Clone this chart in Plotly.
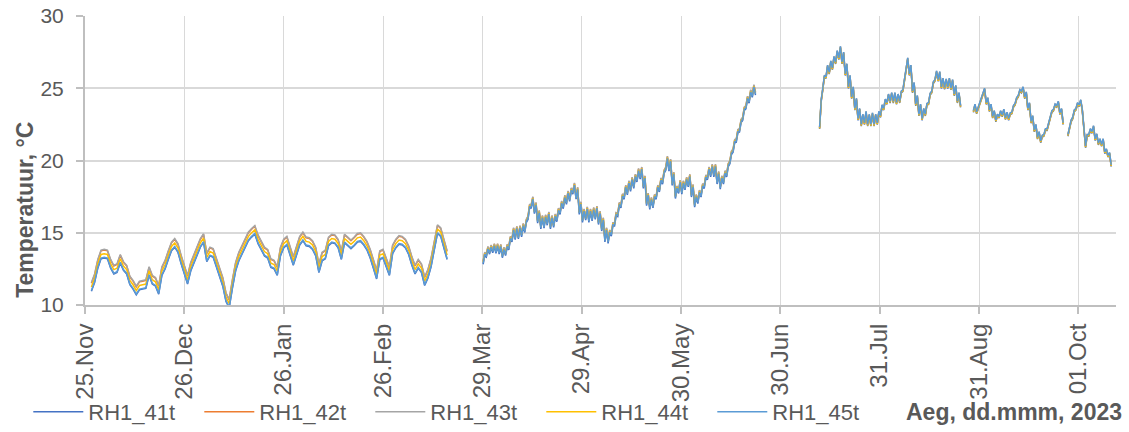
import pandas as pd
import plotly.graph_objects as go

SENSORS = ["RH1_41t", "RH1_42t", "RH1_43t", "RH1_44t", "RH1_45t"]
COLORS = ["#4472C4", "#ED7D31", "#A5A5A5", "#FFC000", "#5B9BD5"]

# RH1_45t, daily readings from 27 Nov 2022 to 18 Mar 2023
WINTER_START = "2022-11-27"
WINTER_T = [
    11.0, 11.6, 12.6, 13.25, 13.3, 13.25, 12.6, 12.2, 12.3, 12.95,
    12.45, 12.2, 11.45, 11.15, 10.75, 11.1, 11.15, 11.2, 12.1, 11.5,
    11.35, 10.8, 12.1, 12.55, 13.2, 13.8, 14.05, 13.7, 12.9, 12.25,
    11.5, 12.4, 12.9, 13.5, 14.05, 14.38, 13.05, 13.45, 13.35, 12.7,
    12.05, 11.35, 10.3, 9.85, 11.2, 12.4, 13.1, 13.55, 14.1, 14.5,
    14.75, 14.95, 14.3, 13.85, 13.45, 13.3, 12.65, 12.55, 12.1, 13.45,
    14.0, 14.2, 13.5, 12.8, 13.5, 14.2, 14.5, 14.15, 14.1, 13.9,
    13.45, 12.3, 13.1, 13.25, 14.15, 14.35, 14.3, 14.0, 13.2, 14.35,
    14.15, 13.95, 14.15, 14.4, 14.45, 14.2, 13.85, 13.3, 12.6, 11.85,
    13.2, 13.3, 12.7, 12.1, 13.6, 14.0, 14.25, 14.2, 14.0, 13.55,
    12.8, 12.2, 12.6, 12.3, 11.4, 11.9, 12.7, 13.9, 15.0, 14.8,
    14.0, 13.2,
]

# RH1_45t, readings every 12 h (06:00 / 18:00) from 29 Mar 2023
SPRING_START = "2023-03-29 06:00"
SPRING_T = [
    12.9, 13.5, 13.4, 13.9, 13.6, 14.0, 13.7, 14.1, 13.65, 14.1,
    13.6, 14.05, 13.35, 13.85, 13.5, 14.05, 13.9, 14.6, 14.45, 15.2,
    14.6, 15.3, 14.65, 15.35, 14.8, 15.5, 15.1, 15.8, 16.0, 16.8,
    16.8, 17.35, 16.4, 16.95, 15.75, 16.4, 15.35, 16.05, 15.4, 16.1,
    15.6, 16.3, 15.35, 16.05, 15.45, 16.15, 15.85, 16.55, 16.35, 17.05,
    16.75, 17.45, 17.05, 17.75, 17.25, 17.95, 17.75, 18.3, 17.4, 18.0,
    16.35, 17.0, 15.8, 16.5, 15.95, 16.65, 15.8, 16.5, 15.9, 16.6,
    16.0, 16.7, 15.65, 16.35, 15.2, 15.9, 14.45, 15.2, 14.35, 15.05,
    14.85, 15.55, 15.55, 16.25, 16.2, 16.95, 16.8, 17.55, 17.4, 18.15,
    17.7, 18.45, 17.95, 18.7, 18.15, 18.9, 18.6, 19.3, 18.8, 19.4,
    18.15, 18.8, 16.95, 17.6, 16.7, 17.3, 16.8, 17.5, 17.4, 18.15,
    17.9, 18.65, 18.45, 19.2, 19.4, 20.15, 19.35, 19.95, 18.35, 19.05,
    17.45, 18.1, 17.8, 18.5, 17.75, 18.45, 18.05, 18.7, 18.25, 18.9,
    17.55, 18.2, 16.85, 17.5, 17.1, 17.8, 17.55, 18.25, 18.15, 18.85,
    18.75, 19.4, 18.95, 19.6, 18.95, 19.6, 18.45, 19.1, 18.1, 18.8,
    18.45, 19.15, 18.95, 19.65, 19.85, 20.5, 20.65, 21.3, 21.35, 22.0,
    22.05, 22.7, 22.85, 23.55, 23.65, 24.3, 24.05, 24.75, 24.45, 25.1,
    24.6,
]

# RH1_45t, readings every 12 h from 12 Jul 2023 (None = no data)
SUMMER_START = "2023-07-12 06:00"
SUMMER_T = [
    22.3, 24.2, 25.0, 25.9, 25.8, 26.6, 26.1, 26.9, 26.4, 27.2,
    26.8, 27.6, 27.1, 27.9, 26.8, 27.5, 26.0, 26.7, 25.1, 25.9,
    24.4, 25.1, 23.6, 24.3, 22.9, 23.6, 22.5, 23.2, 22.6, 23.4,
    22.5, 23.2, 22.5, 23.3, 22.5, 23.2, 22.6, 23.4, 23.1, 23.85,
    23.6, 24.25, 24.0, 24.6, 24.1, 24.7, 24.1, 24.7, 24.0, 24.6,
    24.1, 24.8, 24.9, 25.6, 26.5, 27.1, 26.0, 26.6, 24.8, 25.4,
    23.9, 24.5, 23.2, 23.9, 22.9, 23.6, 23.2, 23.95, 24.0, 24.65,
    24.8, 25.45, 25.6, 26.2, 25.6, 26.15, 25.1, 25.7, 25.05, 25.65,
    25.1, 25.7, 25.0, 25.6, 24.6, 25.2, 24.1, 24.7, 23.8, None,
    None, None, None, None, None, None,
    23.45, 23.9, 23.35, 23.7, 23.9, 24.4, 24.6, 25.0, 24.0, 24.35,
    23.5, 23.9, 23.05, 23.45, 22.8, 23.2, 23.05, 23.45, 23.15, 23.55,
    22.95, 23.35, 22.9, 23.3, 23.35, 23.8, 23.95, 24.35, 24.5, 24.9,
    24.8, 25.1, 24.4, 24.75, 23.6, 24.0, 22.7, 23.1, 22.1, 22.5,
    21.6, 22.0, 21.35, 21.75, 21.8, 22.2, 22.2, 22.6, 23.0, 23.45,
    23.55, 23.9, 23.8, 24.1, 23.3, 23.6, 22.6, None, None, 21.8,
    22.3, 22.8, 23.0, 23.5, 23.6, 24.0, 23.85, 24.2, 23.5, 22.4,
    21.0, 21.8, 21.8, 22.2, 22.0, 22.4, 21.5, 21.85, 21.2, 21.5,
    21.1, 21.5, 20.6, 20.8, 20.35, 20.55, 19.7,
]

# Sensor offsets from RH1_45t in each period (same order as SENSORS)
OFFSET_WINTER = [-0.05, 0.5, 0.55, 0.25, 0.0]
OFFSET_SPRING = [-0.08, 0.12, 0.15, 0.05, 0.0]
OFFSET_SUMMER = [-0.12, -0.05, 0.0, -0.08, 0.0]

TICK_DATES = ["2022-11-25", "2022-12-26", "2023-01-26", "2023-02-26",
              "2023-03-29", "2023-04-29", "2023-05-30", "2023-06-30",
              "2023-07-31", "2023-08-31", "2023-10-01"]
TICK_TEXT = ["25.Nov", "26.Dec", "26.Jan", "26.Feb", "29.Mar", "29.Apr",
             "30.May", "30.Jun", "31.Jul", "31.Aug", "01.Oct"]

FONT = "Liberation Sans"
TEXT_COLOR = "#595959"

periods = [
    (pd.date_range(WINTER_START, periods=len(WINTER_T), freq="D"), WINTER_T, OFFSET_WINTER),
    (pd.date_range(SPRING_START, periods=len(SPRING_T), freq="12h"), SPRING_T, OFFSET_SPRING),
    (pd.date_range(SUMMER_START, periods=len(SUMMER_T), freq="12h"), SUMMER_T, OFFSET_SUMMER),
]

fig = go.Figure()
for i, (name, color) in enumerate(zip(SENSORS, COLORS)):
    xs, ys = [], []
    for dates, temps, offs in periods:
        xs += list(dates) + [None]
        ys += [None if t is None else round(t + offs[i], 2) for t in temps] + [None]
    fig.add_trace(go.Scatter(
        x=xs, y=ys, name=name, mode="lines",
        line=dict(color=color, width=1.5), connectgaps=False,
    ))

fig.update_xaxes(
    type="date", range=["2022-11-25", "2023-10-12 18:00"],
    tickmode="array", tickvals=TICK_DATES, ticktext=TICK_TEXT,
    tickangle=-90, ticks="outside", ticklen=7, tickcolor="#BFBFBF", tickwidth=1.5,
    showgrid=True, gridcolor="#D9D9D9", gridwidth=1,
    showline=True, linecolor="#BFBFBF", linewidth=2,
    tickfont=dict(family=FONT, size=24, color=TEXT_COLOR),
    automargin=False,
)
fig.update_yaxes(
    range=[10, 30], dtick=5, ticks="outside", ticklen=7, tickcolor="#BFBFBF",
    tickwidth=1.5, showgrid=True, gridcolor="#D9D9D9", gridwidth=1.5,
    showline=True, linecolor="#BFBFBF", linewidth=2, zeroline=False,
    tickfont=dict(family=FONT, size=21, color=TEXT_COLOR),
    ticklabelstandoff=8, automargin=False,
)

fig.update_layout(
    width=1129, height=432,
    margin=dict(l=85, r=13, t=16, b=127, autoexpand=False),
    plot_bgcolor="white", paper_bgcolor="white",
    font=dict(family=FONT, size=22, color=TEXT_COLOR),
    showlegend=True,
    legend=dict(orientation="h", x=-0.055, xanchor="left", y=-0.37, yanchor="middle",
                itemwidth=50, entrywidth=106, font=dict(family=FONT, size=22, color=TEXT_COLOR),
                bgcolor="rgba(0,0,0,0)"),
    annotations=[
        dict(text="<b>Temperatuur, °C</b>", textangle=-90, xref="paper", yref="paper",
             x=-0.059, y=0.33, xanchor="center", yanchor="middle", showarrow=False,
             font=dict(family=FONT, size=23, color=TEXT_COLOR)),
        dict(text="<b>Aeg, dd.mmm, 2023</b>", xref="paper", yref="paper",
             x=1.008, y=-0.37, xanchor="right", yanchor="middle", showarrow=False,
             font=dict(family=FONT, size=23, color=TEXT_COLOR)),
    ],
)

fig.write_html("out.html")
